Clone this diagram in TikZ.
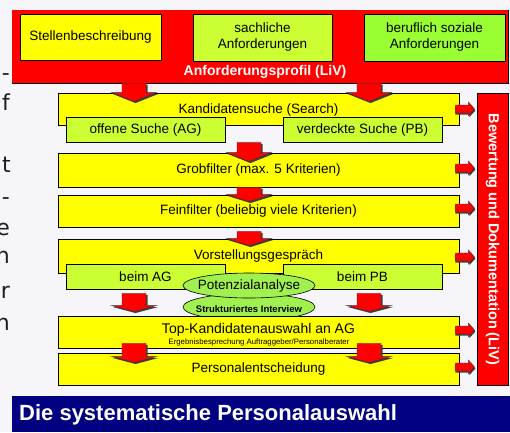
\documentclass[tikz,border=0pt]{standalone}
\usepackage{fontspec}
\setmainfont{Liberation Sans}
\newfontfamily\fragfont{DejaVu Sans}
\usetikzlibrary{calc,shapes.geometric}
\definecolor{bgc}{RGB}{245,245,250}
\definecolor{yel}{RGB}{255,255,0}
\definecolor{limeA}{RGB}{204,255,51}
\definecolor{limeB}{RGB}{153,255,51}
\definecolor{ellc}{RGB}{160,240,80}
\definecolor{navy}{RGB}{0,0,128}
\definecolor{fragc}{RGB}{30,30,30}
\tikzset{
  boxbase/.style={draw=black, line width=0.9pt, inner sep=0pt, font=\fontsize{13.5}{16}\selectfont, align=center},
  ybox/.style={boxbase, fill=yel},
  gbox/.style={boxbase, fill=limeA},
  hbox/.style={boxbase, fill=limeB},
  ell/.style={ellipse, draw=black, line width=0.6pt, fill=ellc, inner sep=0pt},
  lbl/.style={inner sep=0pt, font=\fontsize{13.5}{16}\selectfont},
  blockarr/.style={fill=red, draw=black!80, line width=0.4pt},
  blockshadow/.style={fill=black!75},
  frag/.style={inner sep=0pt, anchor=base east, text=fragc, font=\fragfont\fontsize{22}{24}\selectfont}
}
% down block arrow: #1 start (top centre), #2 tip, #3 head length
\newcommand\dnarr[3]{%
  \fill[blockshadow] ($#1+(-10.5,1.5)$) -- ($#1+(13.5,1.5)$) -- ($#2+(13.5,-#3+1.5)$) -- ($#2+(24,-#3+1.5)$) -- ($#2+(1.5,1.5)$) -- ($#2+(-21,-#3+1.5)$) -- ($#2+(-10.5,-#3+1.5)$) -- cycle;
  \filldraw[blockarr] ($#1+(-12,0)$) -- ($#1+(12,0)$) -- ($#2+(12,-#3)$) -- ($#2+(22.5,-#3)$) -- #2 -- ($#2+(-22.5,-#3)$) -- ($#2+(-12,-#3)$) -- cycle;}
% right block arrow: #1 start, #2 tip
\newcommand\rtarr[2]{%
  \fill[blockshadow] ($#1+(0,-3)$) -- ($#2+(-5,-3)$) -- ($#2+(-5,-5)$) -- ($#2+(1,1.5)$) -- ($#2+(-5,8)$) -- ($#2+(-5,5.5)$) -- ($#1+(0,5.5)$) -- cycle;
  \filldraw[blockarr] ($#1+(0,-4)$) -- ($#2+(-6,-4)$) -- ($#2+(-6,-7)$) -- #2 -- ($#2+(-6,7)$) -- ($#2+(-6,4)$) -- ($#1+(0,4)$) -- cycle;}
\begin{document}
\begin{tikzpicture}[x=1pt,y=-1pt]
\useasboundingbox (0,0) rectangle (510,432);
\fill[bgc] (0,0) rectangle (510,432);

% fragments of text cut off at the left
\node[frag] (f1) at (10,80) {-};
\node[frag] (f2) at (10,110) {f};
\node[frag] (f3) at (11,172) {t};
\node[frag] (f4) at (10,204) {-};
\node[frag] (f5) at (10,235) {e};
\node[frag] (f6) at (10,263) {n};
\node[frag] (f7) at (10,298) {r};
\node[frag] (f8) at (10,330) {n};

% top red requirement profile
\node[fill=red, minimum width=496, minimum height=73, inner sep=0pt] (red) at (260,46.5) {};
\draw[black, line width=1pt] (red.south west) -- (red.south east) -- (red.north east);
\node[ybox, minimum width=141, minimum height=46] (stelle) at (90.5,37) {Stellenbeschreibung};
\node[gbox, minimum width=139, minimum height=47] (sach) at (262.5,37.5) {sachliche\\Anforderungen};
\node[hbox, minimum width=141, minimum height=47] (beruf) at (434.5,37.5) {beruflich soziale\\Anforderungen};
\node[lbl, text=white, font=\bfseries\fontsize{14}{16}\selectfont] (profil) at (265,72) {Anforderungsprofil (LiV)};

% process boxes
\node[ybox, minimum width=401, minimum height=32] (kand) at (258.5,109) {};
\node[lbl] (kandt) at (258.5,109.5) {Kandidatensuche (Search)};
\node[gbox, minimum width=159, minimum height=25] (offen) at (145.5,129.5) {offene Suche (AG)};
\node[gbox, minimum width=159, minimum height=25] (verd) at (362.5,129.5) {verdeckte Suche (PB)};

\node[ybox, minimum width=401, minimum height=34] (grob) at (258.5,170) {Grobfilter (max. 5 Kriterien)};
\node[ybox, minimum width=401, minimum height=32] (fein) at (258.5,211) {Feinfilter (beliebig viele Kriterien)};

\node[ybox, minimum width=401, minimum height=34] (vorst) at (258.5,256) {};
\node[lbl] (vorstt) at (258.5,256) {Vorstellungsgespräch};
\node[gbox, minimum width=159, minimum height=25] (beimag) at (145.5,276.5) {beim AG};
\node[gbox, minimum width=159, minimum height=25] (beimpb) at (362.5,276.5) {beim PB};
\node[ell, minimum width=132, minimum height=27] (struk) at (249,307) {};
\node[ell, minimum width=132, minimum height=25] (pot) at (249,285.5) {};
\node[lbl, font=\fontsize{13.5}{16}\selectfont] (pott) at (249,285.5) {Potenzialanalyse};

\node[ybox, minimum width=401, minimum height=32] (top) at (258.5,332) {};
\node[lbl, font=\bfseries\fontsize{9.5}{11}\selectfont] (strukt) at (249,309.5) {Strukturiertes Interview};
\node[lbl, font=\fontsize{14}{16}\selectfont] (topt) at (258.5,329.5) {Top-Kandidatenauswahl an AG};
\node[lbl, font=\fontsize{7.8}{9}\selectfont] (topsub) at (259,342) {Ergebnisbesprechung Auftraggeber/Personalberater};
\node[ybox, minimum width=401, minimum height=32] (pers) at (258.5,369) {Personalentscheidung};

% right red column
\node[fill=red, draw=black, line width=0.6pt, minimum width=31, minimum height=292, inner sep=0pt] (bew) at (492.5,239) {};
\node[lbl, rotate=-90, text=white, font=\bfseries\fontsize{14.5}{16}\selectfont] (bewt) at (492.5,239.5) {Bewertung und Dokumentation (LiV)};

% down block arrows
\dnarr{(134,0 |- red.south)}{($(134,0 |- kand.north)+(0,9)$)}{9}
\dnarr{(369,0 |- red.south)}{($(369,0 |- kand.north)+(0,9)$)}{9}
\dnarr{(249,0 |- offen.south)}{($(249,0 |- grob.north)+(0,9)$)}{9}
\dnarr{(249,0 |- grob.south)}{($(249,0 |- fein.north)+(0,7)$)}{7}
\dnarr{($(249,0 |- fein.south)+(0,4)$)}{($(249,0 |- vorst.north)+(0,7)$)}{7}
\dnarr{($(beimag.south)+(-11.5,4)$)}{($(134,0 |- top.north)+(0,-4)$)}{6}
\dnarr{($(beimpb.south)+(6.5,4)$)}{($(369,0 |- top.north)+(0,-4)$)}{6}
\dnarr{($(134,0 |- top.south)+(0,-5)$)}{($(134,0 |- pers.north)+(0,10)$)}{6}
\dnarr{($(369,0 |- top.south)+(0,-5)$)}{($(369,0 |- pers.north)+(0,10)$)}{6}

% right block arrows
\rtarr{($(kand.east)+(-4,0)$)}{($(kand.east)+(15,0)$)}
\rtarr{($(grob.east)+(-4,-2)$)}{($(grob.east)+(15,-2)$)}
\rtarr{($(fein.east)+(-4,-3)$)}{($(fein.east)+(15,-3)$)}
\rtarr{($(vorst.east)+(-4,1)$)}{($(vorst.east)+(15,1)$)}
\rtarr{($(top.east)+(-4,-2)$)}{($(top.east)+(15,-2)$)}
\rtarr{($(pers.east)+(-4,-2)$)}{($(pers.east)+(15,-2)$)}

% bottom title band
\node[fill=navy, minimum width=498, minimum height=36, inner sep=0pt] (band) at (261,414) {};
\node[lbl, anchor=west, text=white, font=\bfseries\fontsize{22}{24}\selectfont] (title) at (19,415) {Die systematische Personalauswahl};
\end{tikzpicture}
\end{document}
